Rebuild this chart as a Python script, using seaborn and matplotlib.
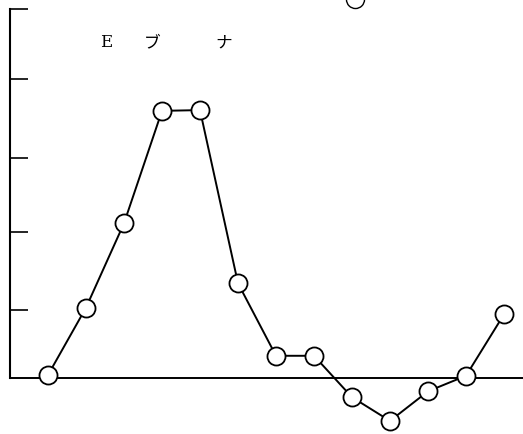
import matplotlib
matplotlib.use("Agg")
import matplotlib.pyplot as plt
import seaborn as sns
import pandas as pd

sns.set_theme(style="white")
plt.rcParams['font.family'] = ['Noto Sans CJK JP', 'DejaVu Sans']

# data (arbitrary units; one tick ~ 1 unit)
x_idx = [1, 2, 3, 4, 5, 6, 7, 8, 9, 10, 11, 12, 13]
values = [0.04, 0.95, 2.09, 3.61, 3.62, 1.28, 0.30, 0.30, -0.26, -0.58, -0.18, 0.03, 0.86]
stray_x = [9.08]
stray_y = [5.12]
title_chars = ["E", "ブ", "ナ"]
title_x = [2.53, 3.74, 5.61]
yticks = [0.92, 1.97, 2.97, 4.04, 4.99]

df = pd.DataFrame({"x": x_idx, "v": values})

fig = plt.figure(figsize=(5.23, 4.34), dpi=100)
ax = fig.add_axes([0, 0, 1, 1])

sns.lineplot(data=df, x="x", y="v", ax=ax, color="black", linewidth=1.4,
             marker="o", markersize=13, markerfacecolor="white",
             markeredgecolor="black", markeredgewidth=1.3, zorder=3)
ax.plot(stray_x, stray_y, marker="o", markersize=13, markerfacecolor="white",
        markeredgecolor="black", markeredgewidth=1.0, linestyle="none", clip_on=False)

ax.set_xlim(-0.263, 13.5)
ax.set_ylim(-0.757, 5.108)

ax.plot([0, 13.5], [0, 0], color="black", linewidth=1.4, zorder=1)

for s in ["top", "right", "bottom"]:
    ax.spines[s].set_visible(False)
ax.spines["left"].set_visible(True)
ax.spines["left"].set_color("black")
ax.spines["left"].set_linewidth(1.5)
ax.spines["left"].set_position(("data", 0))
ax.spines["left"].set_bounds(0, 4.99)

ax.set_xticks([])
ax.set_yticks(yticks)
ax.set_yticklabels([])
ax.tick_params(axis="y", direction="in", length=13, width=1.2, color="black", left=True)
ax.set_xlabel("")
ax.set_ylabel("")

for ch, tx in zip(title_chars, title_x):
    fam = ["DejaVu Serif"] if ch == "E" else ["Noto Sans CJK JP", "DejaVu Sans"]
    ax.text(tx, 4.53, ch, ha="center", va="center", fontsize=12, family=fam, color="black")

fig.savefig("out.png", dpi=100)
